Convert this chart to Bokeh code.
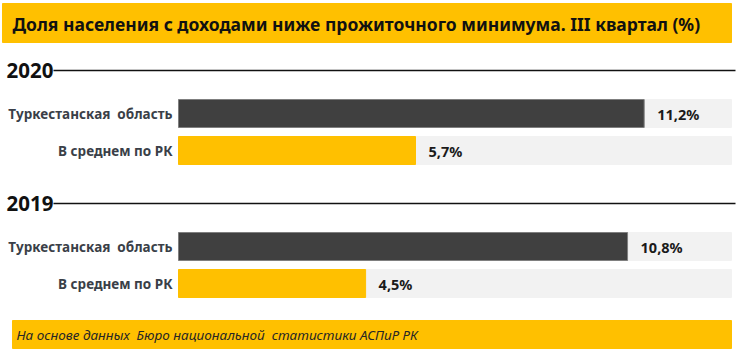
from bokeh.plotting import figure
from bokeh.models import Range1d
from bokeh.embed import file_html
from bokeh.resources import INLINE
from bokeh.core.properties import value

# ---- data ----
title_text = "Доля населения с доходами ниже прожиточного минимума. III квартал (%)"
source_text = "На основе данных  Бюро национальной  статистики АСПиР РК"
years = ["2020", "2019"]
categories = ["Туркестанская  область", "В среднем по РК"]
values_2020 = [11.2, 5.7]
values_2019 = [10.8, 4.5]
axis_max = 13.3

series = [values_2020, values_2019]


def keep_spaces(s):
    return s.replace("  ", "\u00a0 ")


# ---- layout ----
W, H = 740, 354
bar_left_px, bar_right_px = 178, 731
ppu = (bar_right_px - bar_left_px) / axis_max
x0 = -bar_left_px / ppu
x1 = x0 + W / ppu


def px(xp):
    return x0 + xp / ppu


YELLOW = "#FFC000"
DARK = "#404040"
BG = "#F2F2F2"
FONT = "Noto Sans"

p = figure(width=W, height=H, x_range=Range1d(x0, x1), y_range=Range1d(H, 0),
           output_backend="svg", toolbar_location=None,
           x_axis_location=None, y_axis_location=None, min_border=0)
p.grid.visible = False
p.outline_line_color = None
p.background_fill_color = "white"
p.border_fill_color = "white"

# title band
p.quad(left=[px(2)], right=[px(731)], top=[3], bottom=[42], color=YELLOW)
p.text(x=[px(12)], y=[23], text=[title_text], text_baseline="middle", text_align="left",
       text_font=value(FONT), text_font_size=value("17.5px"), text_font_style="bold",
       text_color="#111111")

# footer band
p.quad(left=[px(12)], right=[px(731)], top=[320], bottom=[348], color=YELLOW)
p.text(x=[px(16)], y=[334.5], text=[keep_spaces(source_text)], text_baseline="middle", text_align="left",
       text_font=value(FONT), text_font_size=value("13.5px"), text_font_style="italic",
       text_color="#262626")

group_top = [70, 203]
row_offsets = [43, 80]
row_colors = [DARK, YELLOW]
row_lines = ["#7f7f7f", YELLOW]

for g, (yr, vals) in enumerate(zip(years, series)):
    ly = group_top[g]
    p.text(x=[px(6)], y=[ly], text=[yr], text_baseline="middle", text_align="left",
           text_font=value(FONT), text_font_size=value("20.5px"), text_font_style="bold",
           text_color="#111111")
    p.segment(x0=[px(53)], x1=[px(735)], y0=[ly], y1=[ly], line_color="#111111", line_width=1.5)

    ys = [ly + off for off in row_offsets]
    p.hbar(y=ys, left=0, right=axis_max, height=28, color=BG)
    p.hbar(y=ys, left=0, right=vals, height=28, fill_color=row_colors, line_color=row_lines, line_width=1)
    labels = [f"{v:.1f}%".replace(".", ",") for v in vals]
    p.text(x=vals, y=ys, text=labels, x_offset=13, text_baseline="middle", text_align="left",
           text_font=value(FONT), text_font_size=value("14.5px"), text_font_style="bold",
           text_color="#1a1a1a")
    p.text(x=[0, 0], y=ys, text=[keep_spaces(c) for c in categories], x_offset=-6,
           text_baseline="middle", text_align="right",
           text_font=value(FONT), text_font_size=value("13.5px"), text_font_style="bold",
           text_color="#3a3f48")

open("out.html", "w").write(file_html(p, INLINE))
